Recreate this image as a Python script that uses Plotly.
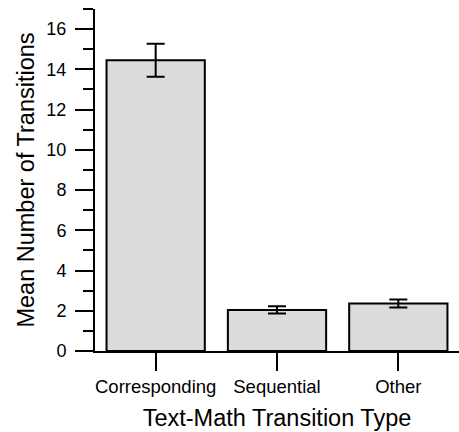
import plotly.graph_objects as go

categories = ["Corresponding", "Sequential", "Other"]
means = [14.45, 2.04, 2.36]
errors = [0.82, 0.18, 0.2]
y_tick_values = [0, 2, 4, 6, 8, 10, 12, 14, 16]

FONT = "Arial, 'Liberation Sans', sans-serif"

fig = go.Figure()
fig.add_trace(go.Bar(
    x=categories,
    y=means,
    marker=dict(color="#dcdcdc", line=dict(color="black", width=2)),
    error_y=dict(type="data", array=errors, visible=True,
                 color="black", thickness=2, width=9),
    showlegend=False,
))

fig.update_layout(
    width=459, height=432,
    margin=dict(l=95, r=0, t=9, b=81),
    paper_bgcolor="white", plot_bgcolor="white",
    bargap=0.19,
    font=dict(family=FONT, color="black"),
    xaxis=dict(
        range=[-0.5, 2.5],
        showline=True, linecolor="black", linewidth=2,
        ticks="outside", ticklen=18, tickwidth=2, tickcolor="black",
        tickfont=dict(size=18.5, family=FONT, color="black"),
        title=dict(text="Text-Math Transition Type",
                   font=dict(size=23.5, family=FONT, color="black"), standoff=13),
        showgrid=False, zeroline=False,
    ),
    yaxis=dict(
        range=[0, 17],
        tickvals=y_tick_values,
        showline=True, linecolor="black", linewidth=2,
        ticks="outside", ticklen=18, tickwidth=2, tickcolor="black",
        minor=dict(dtick=1, ticks="outside", ticklen=10, tickwidth=2, tickcolor="black"),
        tickfont=dict(size=18, family=FONT, color="black"),
        ticklabelstandoff=5,
        title=dict(text="Mean Number of Transitions",
                   font=dict(size=23.5, family=FONT, color="black"), standoff=5),
        showgrid=False, zeroline=False,
    ),
)

fig.write_html("out.html")
